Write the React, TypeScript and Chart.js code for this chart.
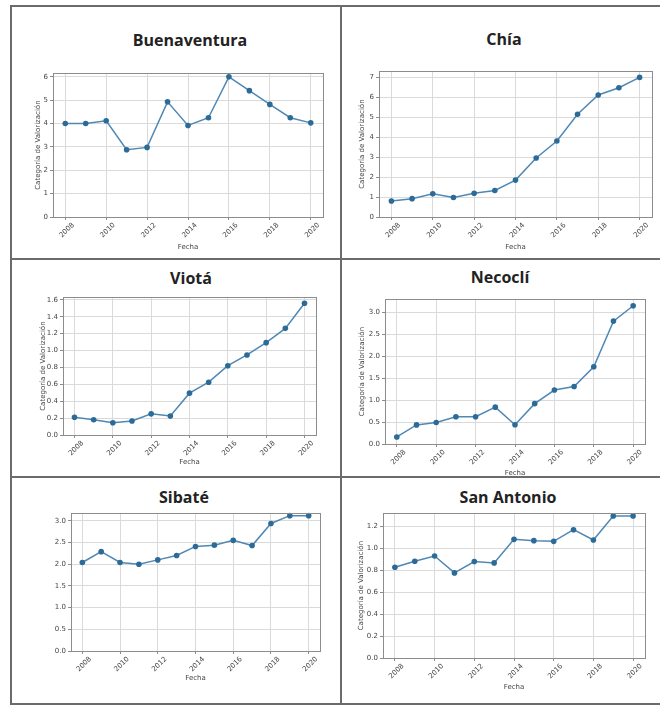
import React, { useEffect, useRef } from "react";
import { Chart, registerables } from "chart.js";

Chart.register(...registerables);

// ---------- data ----------
const years = [2008, 2009, 2010, 2011, 2012, 2013, 2014, 2015, 2016, 2017, 2018, 2019, 2020];
const xTickYears = [2008, 2010, 2012, 2014, 2016, 2018, 2020];

const buenaventura = [4.0, 4.0, 4.12, 2.88, 2.98, 4.93, 3.92, 4.25, 6.0, 5.41, 4.82, 4.25, 4.03];
const chia = [0.8, 0.92, 1.16, 0.98, 1.19, 1.33, 1.85, 2.96, 3.81, 5.15, 6.12, 6.48, 7.0];
const viota = [0.21, 0.18, 0.145, 0.165, 0.25, 0.225, 0.495, 0.625, 0.82, 0.947, 1.093, 1.262, 1.56];
const necocli = [0.16, 0.435, 0.49, 0.62, 0.62, 0.84, 0.44, 0.92, 1.23, 1.31, 1.76, 2.8, 3.15];
const sibate = [2.04, 2.29, 2.04, 2.0, 2.1, 2.2, 2.41, 2.44, 2.55, 2.43, 2.94, 3.12, 3.12];
const sanAntonio = [0.825, 0.88, 0.928, 0.774, 0.877, 0.865, 1.079, 1.067, 1.061, 1.167, 1.073, 1.291, 1.291];

const ticksBuenaventura = [0, 1, 2, 3, 4, 5, 6];
const ticksChia = [0, 1, 2, 3, 4, 5, 6, 7];
const ticksViota = [0, 0.2, 0.4, 0.6, 0.8, 1.0, 1.2, 1.4, 1.6];
const ticksNecocli = [0, 0.5, 1.0, 1.5, 2.0, 2.5, 3.0];
const ticksSibate = [0, 0.5, 1.0, 1.5, 2.0, 2.5, 3.0];
const ticksSanAntonio = [0, 0.2, 0.4, 0.6, 0.8, 1.0, 1.2];

const yAxisTitle = "Categoría de Valorización";
const xAxisTitle = "Fecha";

const panels = [
  { name: "Buenaventura", values: buenaventura, yTicks: ticksBuenaventura, decimals: 0, showYTitle: true },
  { name: "Chía", values: chia, yTicks: ticksChia, decimals: 0, showYTitle: true },
  { name: "Viotá", values: viota, yTicks: ticksViota, decimals: 1, showYTitle: true },
  { name: "Necoclí", values: necocli, yTicks: ticksNecocli, decimals: 1, showYTitle: true },
  { name: "Sibaté", values: sibate, yTicks: ticksSibate, decimals: 1, showYTitle: false },
  { name: "San Antonio", values: sanAntonio, yTicks: ticksSanAntonio, decimals: 1, showYTitle: true },
];

// ---------- layout (page pixels) ----------
const layouts = [
  { plot: [53, 73, 323, 217], yTitleX: 38, xTitleY: 246, title: [190, 40] },
  { plot: [379, 71, 652, 217], yTitleX: 362, xTitleY: 246, title: [504, 39] },
  { plot: [63, 297, 316, 435], yTitleX: 43, xTitleY: 461, title: [191, 278] },
  { plot: [385, 299, 645, 444], yTitleX: 362, xTitleY: 472, title: [500, 277] },
  { plot: [71, 513, 320, 651], yTitleX: 47, xTitleY: 677, title: [184, 497] },
  { plot: [383, 513, 645, 658], yTitleX: 361, xTitleY: 686, title: [508, 497] },
];

const LINE = "#4f88b5";
const MARK = "#2c6b98";
const GRID = "#dadada";
const FRAME = "#8c8c8c";
const TEXT = "#444";
const SMALL = { family: "'DejaVu Sans', sans-serif", size: 7 };

const framePlugin = {
  id: "frame",
  afterDraw(chart: any) {
    const { ctx, chartArea: a } = chart;
    ctx.save();
    ctx.strokeStyle = FRAME;
    ctx.lineWidth = 1;
    ctx.strokeRect(Math.round(a.left) + 0.5, Math.round(a.top) + 0.5, Math.round(a.right - a.left), Math.round(a.bottom - a.top));
    ctx.restore();
  },
};

function Panel({ panel, lay }: { panel: any; lay: any }) {
  const ref = useRef<HTMLCanvasElement>(null);
  const [L, T, R, B] = lay.plot;
  const cLeft = Math.round(lay.yTitleX - 4);
  const cTop = T - 6;
  const cRight = R + 6;
  const cBottom = Math.round(lay.xTitleY + 5);
  const w = cRight - cLeft;
  const h = cBottom - cTop;

  useEffect(() => {
    const vals: number[] = panel.values;
    const hi = Math.max(...vals);
    const lo = Math.min(...vals);
    const ymax = hi + 0.05 * (hi - lo);
    const chart = new Chart(ref.current as HTMLCanvasElement, {
      type: "line",
      data: {
        datasets: [
          {
            data: years.map((y, i) => ({ x: y, y: vals[i] })),
            borderColor: LINE,
            borderWidth: 1.5,
            pointRadius: 2.8,
            pointBackgroundColor: MARK,
            pointBorderColor: MARK,
            pointBorderWidth: 0,
            tension: 0,
            clip: false as any,
          },
        ],
      },
      options: {
        animation: false,
        responsive: false,
        maintainAspectRatio: false,
        layout: { padding: { left: 0, top: 6, right: 6, bottom: 0 } },
        plugins: { legend: { display: false }, tooltip: { enabled: false } },
        scales: {
          x: {
            type: "linear",
            min: 2007.4,
            max: 2020.6,
            afterBuildTicks: (s: any) => {
              s.ticks = xTickYears.map((v) => ({ value: v }));
            },
            afterFit: (s: any) => {
              s.height = cBottom - B;
            },
            ticks: {
              autoSkip: false,
              minRotation: 45,
              maxRotation: 45,
              labelOffset: 8,
              padding: 1,
              color: TEXT,
              font: SMALL,
              callback: (v: any) => String(v),
            },
            grid: { color: GRID, tickLength: 3, tickColor: FRAME },
            border: { color: FRAME },
            title: { display: true, text: xAxisTitle, color: TEXT, font: SMALL, padding: 0 },
          },
          y: {
            type: "linear",
            min: 0,
            max: ymax,
            afterBuildTicks: (s: any) => {
              s.ticks = panel.yTicks.map((v: number) => ({ value: v }));
            },
            afterFit: (s: any) => {
              s.width = L - cLeft;
            },
            ticks: {
              padding: 2,
              color: TEXT,
              font: SMALL,
              callback: (v: any) => Number(v).toFixed(panel.decimals),
            },
            grid: { color: GRID, tickLength: 3, tickColor: FRAME },
            border: { color: FRAME },
            title: { display: panel.showYTitle, text: yAxisTitle, color: TEXT, font: SMALL, padding: 0 },
          },
        },
      },
      plugins: [framePlugin],
    } as any);
    return () => chart.destroy();
  }, []);

  return (
    <>
      <div
        style={{
          position: "absolute",
          left: lay.title[0] - 120,
          top: lay.title[1] - 11,
          width: 240,
          textAlign: "center",
          font: "700 16px 'Open Sans', sans-serif",
          lineHeight: "22px",
          color: "#222",
        }}
      >
        {panel.name}
      </div>
      <canvas
        ref={ref}
        width={w}
        height={h}
        style={{ position: "absolute", left: cLeft, top: cTop, width: w, height: h }}
      />
    </>
  );
}

const BORDER = "#6b6b6b";

export default function App() {
  const line = (l: number, t: number, wd: number, ht: number) => (
    <div style={{ position: "absolute", left: l, top: t, width: wd, height: ht, background: BORDER }} />
  );
  return (
    <div style={{ position: "absolute", left: 0, top: 0, width: 660, height: 707, background: "#fff", overflow: "hidden" }}>
      {panels.map((p, i) => (
        <Panel key={p.name} panel={p} lay={layouts[i]} />
      ))}
      {line(10, 5, 650, 2)}
      {line(10, 5, 2, 700)}
      {line(10, 703, 650, 2)}
      {line(340, 5, 2, 700)}
      {line(10, 258, 650, 2)}
      {line(10, 476, 650, 2)}
    </div>
  );
}
